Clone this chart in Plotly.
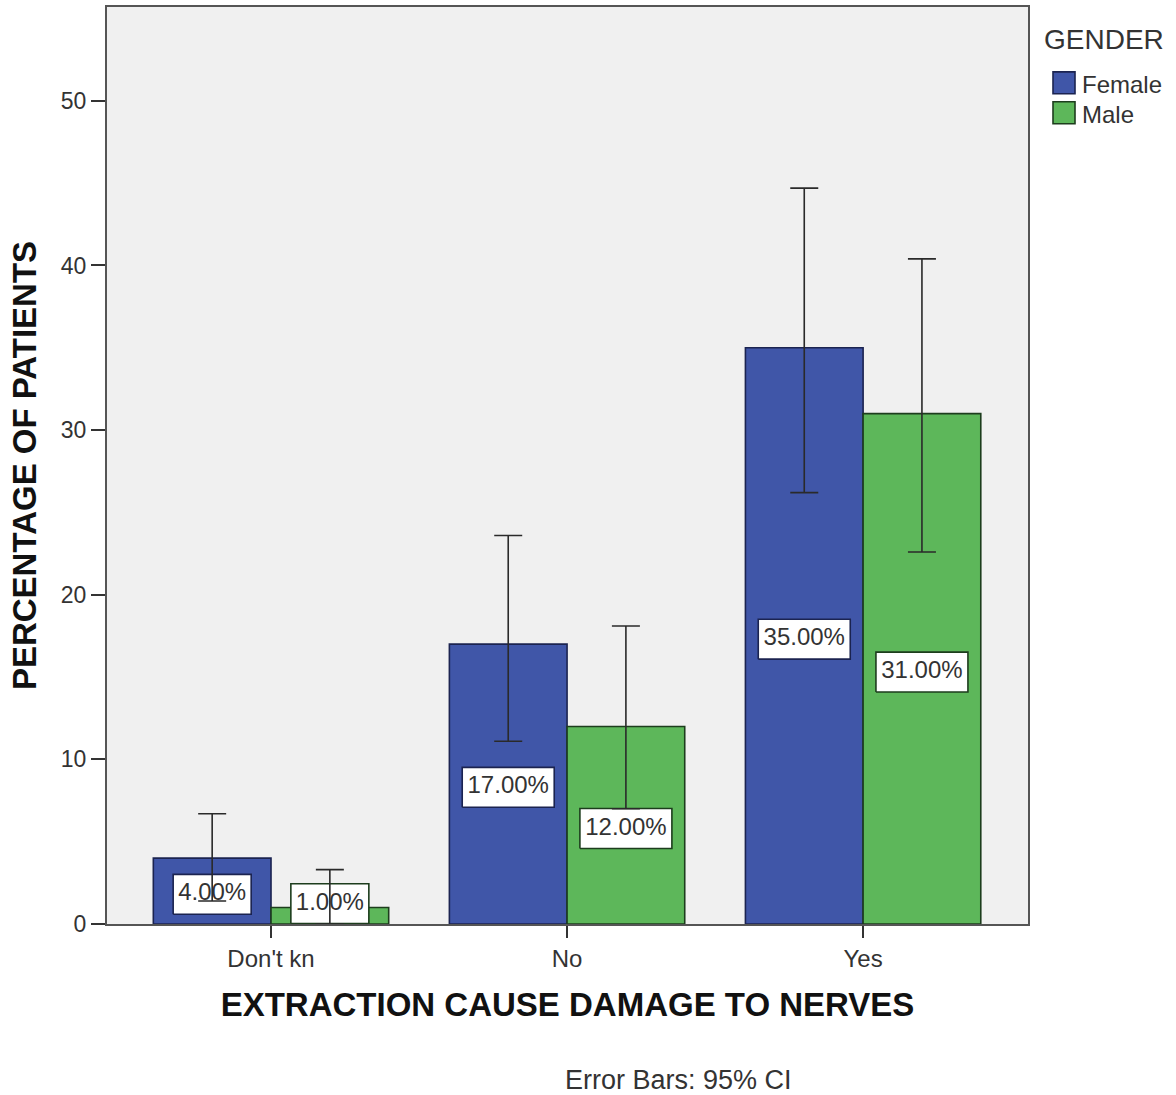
import plotly.graph_objects as go

# Clustered bar chart: percentage of patients by answer and gender, with 95% CI
categories = ["Don't kn", "No", "Yes"]
genders = ["Female", "Male"]
female_pct = [4.0, 17.0, 35.0]
male_pct = [1.0, 12.0, 31.0]
female_ci_low = [1.4, 11.1, 26.2]
female_ci_high = [6.7, 23.6, 44.7]
male_ci_low = [0.0, 7.0, 22.6]
male_ci_high = [3.3, 18.1, 40.4]
y_ticks = [0, 10, 20, 30, 40, 50]

COLORS = {"Female": "#4056A8", "Male": "#5DB75A"}
EDGES = {"Female": "#1b2350", "Male": "#1d3d1d"}
FONT = "Liberation Sans, Arial, sans-serif"
TEXT = "#333333"

# Figure geometry (pixels) and axis ranges
W, H = 1176, 1095
M_L, M_R, M_T, M_B = 107, 148, 5, 171
X_RANGE = [-0.554, 2.557]
Y_RANGE = [0, 55.7]
PLOT_W = W - M_L - M_R
PLOT_H = H - M_T - M_B
PX_X = PLOT_W / (X_RANGE[1] - X_RANGE[0])
PX_Y = PLOT_H / (Y_RANGE[1] - Y_RANGE[0])

GROUP_WIDTH = 0.795
BAR_W = GROUP_WIDTH / 2
OFFSETS = {"Female": -BAR_W / 2, "Male": BAR_W / 2}

series = {
    "Female": (female_pct, female_ci_low, female_ci_high),
    "Male": (male_pct, male_ci_low, male_ci_high),
}

fig = go.Figure()

# Bars
for g in genders:
    vals = series[g][0]
    fig.add_trace(go.Bar(
        name=g,
        x=[i + OFFSETS[g] for i in range(len(categories))],
        y=vals,
        width=BAR_W,
        marker=dict(color=COLORS[g], line=dict(color=EDGES[g], width=1.6)),
        showlegend=False,
        hoverinfo="skip",
    ))

# White value boxes, centred in each bar
label_x, label_y, label_txt = [], [], []
for g in genders:
    vals = series[g][0]
    for i, v in enumerate(vals):
        txt = f"{v:.2f}%"
        cx = i + OFFSETS[g]
        half_h = 20 / PX_Y
        cy = max(v / 2 - 0.2, half_h + 0.02)
        half_w = (14 * len(txt) + 8) / 2 / PX_X
        fig.add_trace(go.Scatter(
            x=[cx - half_w, cx + half_w, cx + half_w, cx - half_w, cx - half_w],
            y=[cy - half_h, cy - half_h, cy + half_h, cy + half_h, cy - half_h],
            mode="lines",
            fill="toself",
            fillcolor="white",
            line=dict(color=EDGES[g], width=1.6),
            showlegend=False,
            hoverinfo="skip",
        ))
        label_x.append(cx)
        label_y.append(cy)
        label_txt.append(txt)

fig.add_trace(go.Scatter(
    x=label_x, y=label_y, text=label_txt,
    mode="text", textposition="middle center",
    textfont=dict(family=FONT, size=24, color=TEXT),
    showlegend=False, hoverinfo="skip",
))

# 95% confidence interval whiskers, drawn over the boxes
for g in genders:
    vals, lo, hi = series[g]
    fig.add_trace(go.Scatter(
        x=[i + OFFSETS[g] for i in range(len(categories))],
        y=vals,
        mode="markers",
        marker=dict(size=1, color="rgba(0,0,0,0)"),
        error_y=dict(
            type="data",
            symmetric=False,
            array=[h - v for h, v in zip(hi, vals)],
            arrayminus=[v - l for v, l in zip(vals, lo)],
            color="#2a2a2a",
            thickness=1.6,
            width=14,
        ),
        showlegend=False,
        hoverinfo="skip",
    ))


def paper_x(px):
    return (px - M_L) / PLOT_W


def paper_y(py):
    return (H - M_B - py) / PLOT_H


# Legend: title, swatches and names
fig.add_annotation(
    x=paper_x(1042), y=paper_y(38), xref="paper", yref="paper",
    text="GENDER", showarrow=False, xanchor="left", yanchor="middle",
    font=dict(family=FONT, size=28, color=TEXT),
)
for k, g in enumerate(genders):
    cy = 81 + 30 * k
    fig.add_shape(
        type="rect", xref="paper", yref="paper",
        x0=paper_x(1053), x1=paper_x(1075),
        y0=paper_y(cy + 11), y1=paper_y(cy - 11),
        fillcolor=COLORS[g], line=dict(color=EDGES[g], width=1.6),
    )
    fig.add_annotation(
        x=paper_x(1080), y=paper_y(cy + 2), xref="paper", yref="paper",
        text=g, showarrow=False, xanchor="left", yanchor="middle",
        font=dict(family=FONT, size=24, color=TEXT),
    )

fig.add_annotation(
    x=paper_x(678), y=paper_y(1080), xref="paper", yref="paper",
    text="Error Bars: 95% CI", showarrow=False,
    font=dict(family=FONT, size=27, color=TEXT),
    xanchor="center", yanchor="middle",
)

fig.update_layout(
    width=W,
    height=H,
    margin=dict(l=M_L, r=M_R, t=M_T, b=M_B),
    paper_bgcolor="white",
    plot_bgcolor="#F0F0F0",
    showlegend=False,
    xaxis=dict(
        range=X_RANGE,
        tickvals=list(range(len(categories))),
        ticktext=categories,
        showline=True, linecolor="#555555", linewidth=2, mirror=True,
        ticks="outside", ticklen=12, tickwidth=1.6, tickcolor="#333333",
        tickfont=dict(family=FONT, size=24, color=TEXT),
        title=dict(
            text="<b>EXTRACTION CAUSE DAMAGE TO NERVES</b>",
            font=dict(family=FONT, size=33, color="#111111"),
            standoff=22,
        ),
        showgrid=False,
        zeroline=False,
    ),
    yaxis=dict(
        range=Y_RANGE,
        tickvals=y_ticks,
        showline=True, linecolor="#555555", linewidth=2, mirror=True,
        ticks="outside", ticklen=14, tickwidth=1.6, tickcolor="#333333",
        tickfont=dict(family=FONT, size=23, color=TEXT),
        title=dict(
            text="<b>PERCENTAGE OF PATIENTS</b>",
            font=dict(family=FONT, size=33, color="#111111"),
            standoff=14,
        ),
        showgrid=False,
        zeroline=False,
    ),
)

fig.write_html("out.html")
